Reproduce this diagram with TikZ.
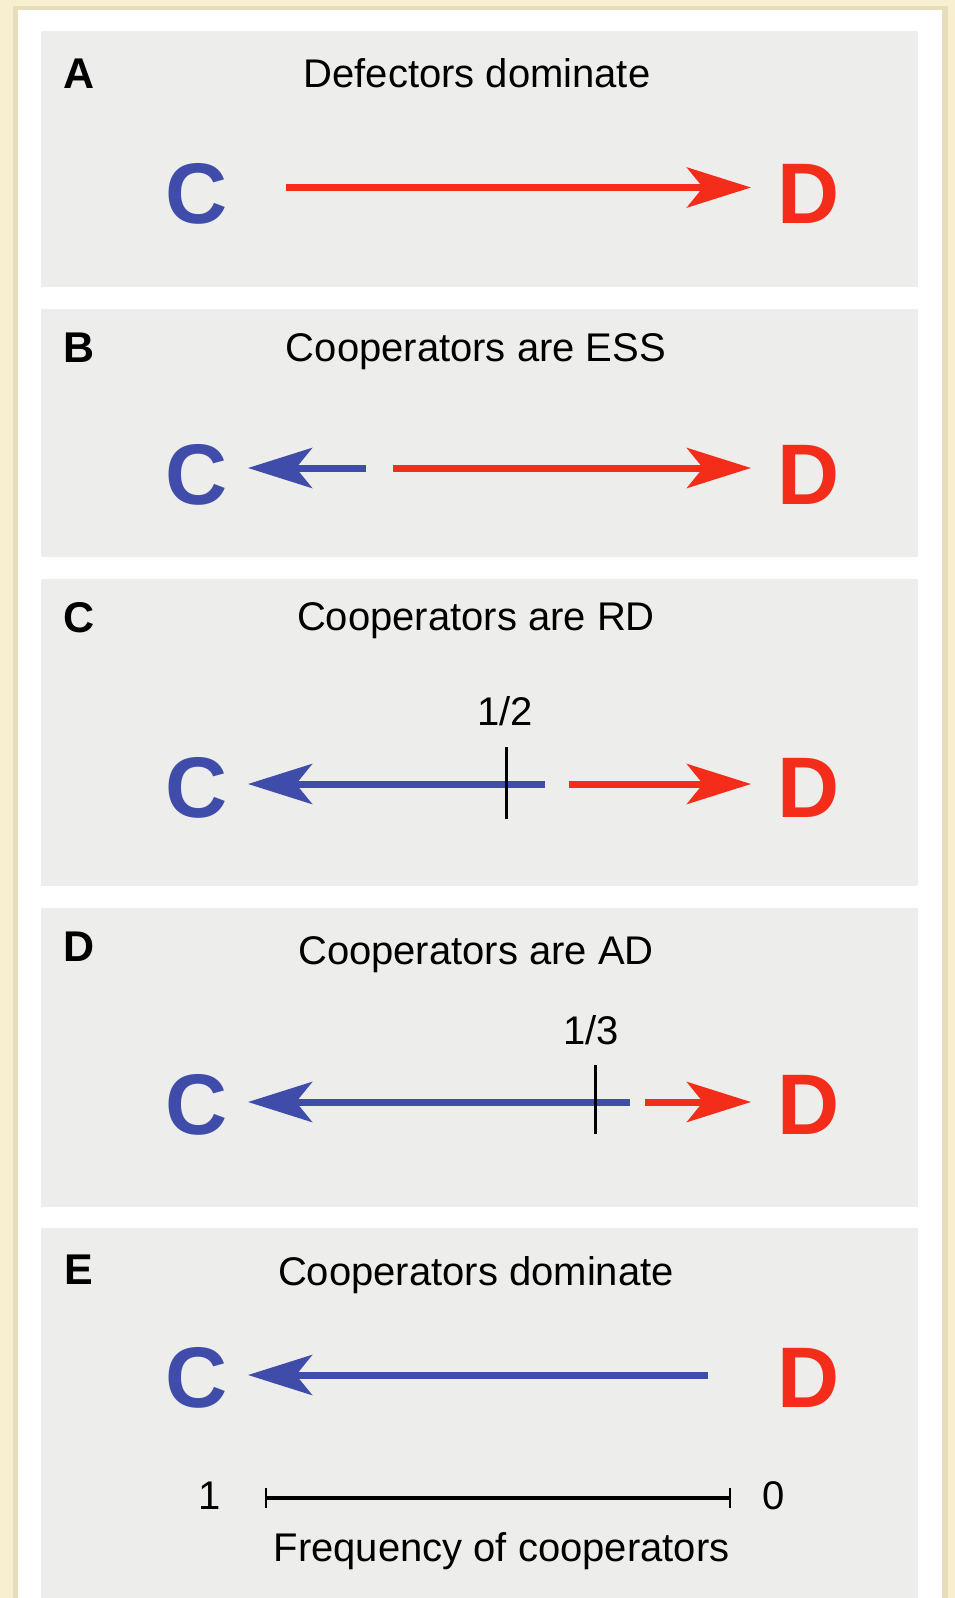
\documentclass[tikz,border=0pt]{standalone}
\usepackage{fontspec}
\setmainfont{Liberation Sans}
\usetikzlibrary{arrows.meta}
\definecolor{cream}{RGB}{248,239,208}
\definecolor{shadowtan}{RGB}{232,221,186}
\definecolor{panelgray}{RGB}{237,237,235}
\definecolor{cblue}{RGB}{64,76,170}
\definecolor{dred}{RGB}{244,44,26}
\begin{document}
\begin{tikzpicture}[x=1pt,y=-1pt,
  title/.style={anchor=base, inner sep=0pt, font=\fontsize{40}{48}\selectfont},
  plabel/.style={anchor=base, inner sep=0pt, font=\fontsize{43}{50}\selectfont\bfseries},
  bigC/.style={inner sep=0pt, text=cblue, font=\fontsize{86}{90}\selectfont\bfseries},
  bigD/.style={inner sep=0pt, text=dred, font=\fontsize{86}{90}\selectfont\bfseries},
  tipstyle/.style={-{Stealth[length=64pt,width=40pt,inset=16pt]}},
  redarrow/.style={draw=dred, line width=7pt, tipstyle},
  bluearrow/.style={draw=cblue, line width=7pt, tipstyle},
  tickmark/.style={draw=black, line width=3pt},
  panel/.style={fill=panelgray, draw=none},
  scalebar/.style={draw=black, line width=4pt},
  endtick/.style={draw=black, line width=2.5pt}
]
% background and card
\fill[cream] (0,0) rectangle (955,1598);
\useasboundingbox (0,0) rectangle (955,1598);
\fill[shadowtan] (13,6) rectangle (948,1598);
\fill[white] (18,10) rectangle (942,1598);
% panels
\fill[panel] (41,31) rectangle (918,287);
\fill[panel] (41,309) rectangle (918,557);
\fill[panel] (41,579) rectangle (918,886);
\fill[panel] (41,908) rectangle (918,1207);
\fill[panel] (41,1228) rectangle (918,1598);

% ---------- Panel A ----------
\node[plabel] (la) at (79,88) {A};
\node[title] (ta) at (477,87) {Defectors dominate};
\node[bigC] (ca) at (197,194) {C};
\node[bigD] (da) at (809,194) {D};
\coordinate (a1) at (286,187.5);
\coordinate (a2) at (751,187.5);
\draw[redarrow] (a1) -- (a2);

% ---------- Panel B ----------
\node[plabel] (lb) at (79,362) {B};
\node[title] (tb) at (476,361) {Cooperators are ESS};
\node[bigC] (cb) at (197,475) {C};
\node[bigD] (db) at (809,475) {D};
\coordinate (b1) at (366,468);
\coordinate (b2) at (248,468);
\coordinate (b3) at (393,468);
\coordinate (b4) at (751,468);
\draw[bluearrow] (b1) -- (b2);
\draw[redarrow] (b3) -- (b4);

% ---------- Panel C ----------
\node[plabel] (lc) at (79,632) {C};
\node[title] (tc) at (476,630) {Cooperators are RD};
\node[bigC] (cc) at (197,788) {C};
\node[bigD] (dc) at (809,788) {D};
\coordinate (c1) at (545,784);
\coordinate (c2) at (248,784);
\coordinate (c3) at (569,784);
\coordinate (c4) at (751,784);
\draw[bluearrow] (c1) -- (c2);
\draw[redarrow] (c3) -- (c4);
\coordinate (ct1) at (506.5,747);
\coordinate (ct2) at (506.5,819);
\draw[tickmark] (ct1) -- (ct2);
\node[title] (hc) at (505,725) {1/2};

% ---------- Panel D ----------
\node[plabel] (ld) at (79,961) {D};
\node[title] (td) at (476,964) {Cooperators are AD};
\node[bigC] (cd) at (197,1105) {C};
\node[bigD] (dd) at (809,1105) {D};
\coordinate (d1) at (630,1102);
\coordinate (d2) at (248,1102);
\coordinate (d3) at (645,1102);
\coordinate (d4) at (751,1102);
\draw[bluearrow] (d1) -- (d2);
\draw[redarrow] (d3) -- (d4);
\coordinate (dt1) at (595,1065);
\coordinate (dt2) at (595,1134);
\draw[tickmark] (dt1) -- (dt2);
\node[title] (hd) at (591,1044) {1/3};

% ---------- Panel E ----------
\node[plabel] (le) at (79,1284) {E};
\node[title] (te) at (476,1285) {Cooperators dominate};
\node[bigC] (ce) at (197,1378) {C};
\node[bigD] (de) at (809,1378) {D};
\coordinate (e1) at (708,1375);
\coordinate (e2) at (248,1375);
\draw[bluearrow] (e1) -- (e2);

% scale bar
\coordinate (s1) at (266,1498);
\coordinate (s2) at (730,1498);
\draw[scalebar] (s1) -- (s2);
\draw[endtick] ([yshift=-10pt]s1) -- ([yshift=10pt]s1);
\draw[endtick] ([yshift=-10pt]s2) -- ([yshift=10pt]s2);
\node[title] (one) at (210,1509) {1};
\node[title] (zero) at (773.5,1509) {0};
\node[title] (freq) at (501.5,1561) {Frequency of cooperators};
\end{tikzpicture}
\end{document}
